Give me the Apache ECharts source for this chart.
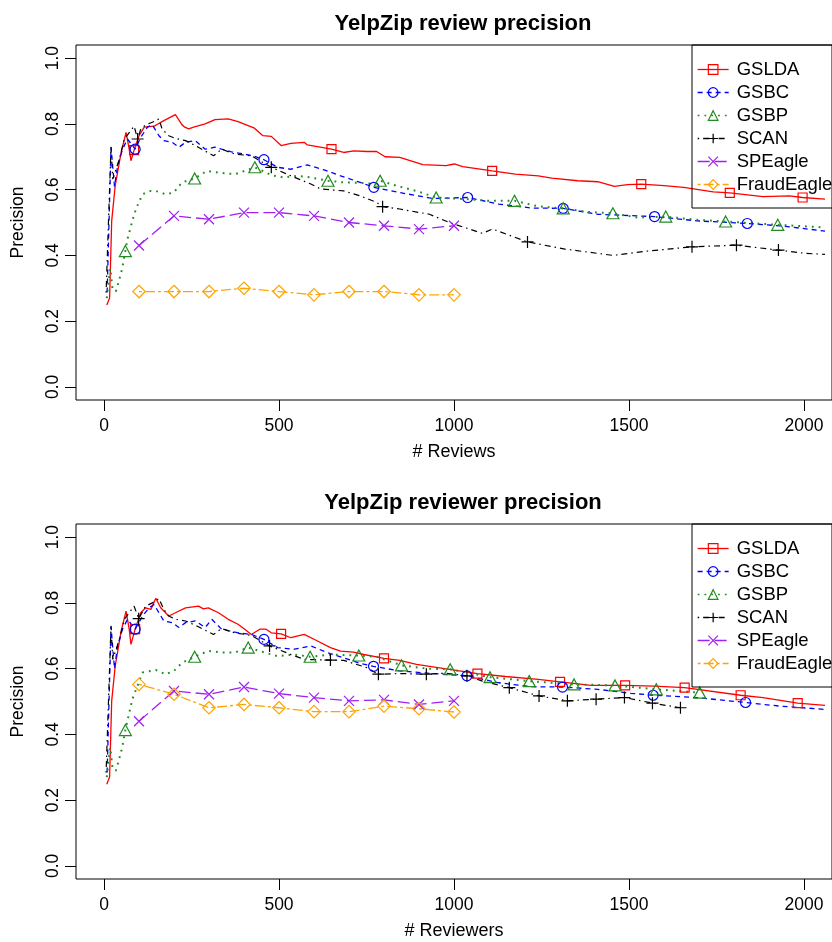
<!DOCTYPE html>
<html><head><meta charset="utf-8">
<script src="https://cdn.jsdelivr.net/npm/echarts@6/dist/echarts.min.js"></script>
<style>html,body{margin:0;padding:0;background:#fff}#c{width:832px;height:942px}</style>
</head><body><div id="c"></div>
<script>
// ---------------- data ----------------
const methods = ['GSLDA','GSBC','GSBP','SCAN','SPEagle','FraudEagle'];
const xTicks = [0,500,1000,1500,2000];
const yTicks = [0,0.2,0.4,0.6,0.8,1.0];
const titles = ['YelpZip review precision','YelpZip reviewer precision'];
const xNames = ['# Reviews','# Reviewers'];
const yName = 'Precision';
const eagleX = [100,200,300,400,500,600,700,800,900,1000];

// Top panel: review precision
const reviewGSLDA = [[8,0.249],[16,0.27],[22,0.505],[32,0.612],[49,0.713],[63,0.774],[72,0.723],[77,0.688],[86,0.72],[100,0.764],[115,0.79],[143,0.793],[171,0.81],[204,0.828],[223,0.797],[231,0.79],[242,0.785],[256,0.79],[289,0.80],[317,0.813],[355,0.815],[383,0.807],[430,0.787],[454,0.764],[478,0.762],[506,0.734],[534,0.741],[572,0.744],[581,0.736],[650,0.723],[685,0.713],[713,0.718],[751,0.716],[779,0.716],[803,0.70],[845,0.698],[911,0.676],[977,0.673],[1001,0.678],[1025,0.67],[1109,0.657],[1175,0.647],[1241,0.642],[1279,0.635],[1354,0.627],[1411,0.624],[1458,0.61],[1496,0.615],[1535,0.617],[1600,0.612],[1656,0.607],[1741,0.593],[1788,0.59],[1883,0.579],[1958,0.581],[1996,0.576],[2060,0.571]];
const reviewGSLDAMarks = [86,650,1109,1535,1788,1996];
const reviewGSBC = [[9,0.287],[20,0.729],[30,0.61],[39,0.673],[53,0.723],[67,0.754],[89,0.723],[105,0.759],[124,0.79],[138,0.797],[157,0.764],[171,0.749],[195,0.744],[214,0.729],[233,0.744],[261,0.749],[289,0.723],[317,0.729],[336,0.723],[364,0.715],[402,0.708],[431,0.701],[457,0.691],[496,0.668],[534,0.662],[581,0.675],[629,0.66],[676,0.642],[732,0.622],[771,0.607],[845,0.591],[940,0.573],[1039,0.576],[1128,0.556],[1222,0.544],[1312,0.543],[1411,0.525],[1573,0.518],[1694,0.505],[1838,0.497],[1930,0.49],[2060,0.474]];
const reviewGSBCMarks = [89,457,771,1039,1312,1573,1838];
const reviewGSBP = [[8,0.27],[14,0.33],[18,0.36],[24,0.30],[34,0.29],[42,0.32],[52,0.36],[61,0.413],[67,0.449],[81,0.505],[91,0.54],[110,0.586],[133,0.596],[148,0.596],[176,0.586],[199,0.591],[223,0.622],[259,0.634],[294,0.657],[327,0.652],[374,0.647],[402,0.657],[431,0.668],[478,0.644],[515,0.637],[553,0.642],[591,0.637],[640,0.627],[685,0.622],[742,0.62],[775,0.617],[789,0.627],[845,0.609],[893,0.596],[949,0.576],[1034,0.571],[1100,0.566],[1173,0.566],[1241,0.549],[1312,0.543],[1383,0.532],[1454,0.528],[1524,0.515],[1605,0.518],[1694,0.508],[1776,0.503],[1925,0.493],[2060,0.485]];
const reviewGSBPMarks = [61,259,431,640,789,949,1173,1312,1454,1605,1776,1925];
const reviewSCAN = [[6,0.287],[20,0.73],[25,0.632],[44,0.693],[58,0.754],[86,0.793],[96,0.754],[105,0.784],[119,0.797],[138,0.805],[157,0.815],[166,0.784],[185,0.764],[204,0.756],[233,0.749],[261,0.734],[313,0.703],[336,0.723],[374,0.708],[421,0.703],[478,0.668],[534,0.642],[591,0.617],[619,0.602],[685,0.596],[732,0.581],[779,0.561],[796,0.548],[845,0.541],[930,0.525],[987,0.5],[1081,0.467],[1110,0.48],[1210,0.441],[1317,0.419],[1454,0.4],[1552,0.413],[1680,0.426],[1807,0.431],[1927,0.416],[2005,0.406],[2060,0.403]];
const reviewSCANMarks = [96,478,796,1210,1680,1807,1927];
const reviewSPEagle = [0.43,0.52,0.51,0.53,0.53,0.52,0.50,0.49,0.48,0.49];
const reviewFraudEagle = [0.29,0.29,0.29,0.30,0.29,0.28,0.29,0.29,0.28,0.28];

// Bottom panel: reviewer precision
const reviewerGSLDA = [[8,0.248],[16,0.27],[22,0.502],[32,0.608],[49,0.714],[63,0.775],[72,0.72],[77,0.674],[89,0.72],[105,0.77],[119,0.785],[134,0.78],[148,0.814],[162,0.785],[185,0.76],[204,0.77],[233,0.785],[270,0.79],[284,0.782],[298,0.785],[327,0.77],[355,0.75],[383,0.735],[402,0.72],[421,0.704],[445,0.72],[463,0.72],[478,0.709],[506,0.706],[534,0.694],[572,0.704],[610,0.684],[647,0.664],[676,0.653],[713,0.65],[742,0.643],[779,0.636],[800,0.631],[845,0.625],[893,0.613],[987,0.598],[1067,0.585],[1147,0.576],[1241,0.567],[1303,0.56],[1392,0.549],[1489,0.549],[1571,0.547],[1659,0.542],[1819,0.519],[1883,0.512],[1982,0.495],[2060,0.488]];
const reviewerGSLDAMarks = [89,506,800,1067,1303,1489,1659,1819,1982];
const reviewerGSBC = [[9,0.284],[20,0.728],[30,0.60],[39,0.67],[53,0.72],[67,0.75],[89,0.72],[110,0.76],[129,0.785],[143,0.795],[157,0.77],[171,0.745],[195,0.74],[214,0.725],[233,0.74],[261,0.745],[289,0.725],[308,0.75],[336,0.72],[383,0.709],[421,0.704],[457,0.689],[496,0.664],[544,0.659],[591,0.669],[638,0.649],[685,0.633],[732,0.616],[770,0.607],[845,0.593],[940,0.585],[1037,0.578],[1128,0.557],[1222,0.545],[1310,0.544],[1411,0.537],[1505,0.525],[1569,0.519],[1694,0.512],[1833,0.497],[1930,0.486],[2060,0.476]];
const reviewerGSBCMarks = [89,457,770,1037,1310,1569,1833];
const reviewerGSBP = [[8,0.27],[14,0.33],[18,0.36],[24,0.30],[34,0.289],[42,0.32],[52,0.36],[61,0.413],[81,0.507],[110,0.588],[148,0.596],[176,0.583],[200,0.593],[223,0.618],[259,0.636],[298,0.654],[336,0.649],[374,0.649],[412,0.664],[459,0.649],[496,0.638],[544,0.643],[589,0.636],[647,0.643],[728,0.64],[779,0.636],[850,0.61],[921,0.6],[989,0.598],[1103,0.574],[1215,0.562],[1343,0.552],[1460,0.549],[1578,0.537],[1702,0.527]];
const reviewerGSBPMarks = [61,259,412,589,728,850,989,1103,1215,1343,1460,1578,1702];
const reviewerSCAN = [[6,0.284],[20,0.73],[25,0.628],[44,0.689],[58,0.75],[86,0.79],[99,0.752],[119,0.79],[138,0.80],[157,0.813],[171,0.78],[185,0.76],[204,0.75],[233,0.745],[261,0.732],[313,0.704],[336,0.722],[374,0.709],[421,0.701],[473,0.669],[534,0.643],[572,0.628],[647,0.626],[685,0.625],[751,0.603],[784,0.583],[850,0.585],[921,0.583],[977,0.586],[1037,0.578],[1081,0.562],[1158,0.542],[1243,0.517],[1324,0.502],[1406,0.507],[1487,0.512],[1567,0.495],[1647,0.481]];
const reviewerSCANMarks = [99,473,647,784,921,1037,1158,1243,1324,1406,1487,1567,1647];
const reviewerSPEagle = [0.44,0.532,0.522,0.544,0.524,0.512,0.502,0.505,0.491,0.502];
const reviewerFraudEagle = [0.552,0.522,0.481,0.491,0.481,0.469,0.469,0.486,0.478,0.468];

// ---------------- styles ----------------
const FONT = '"Liberation Sans", Arial, Helvetica, sans-serif';
const styles = {
  GSLDA:      {color:'#FF0000', dash:'solid',          width:1.3, symbol:'rect',     size:9},
  GSBC:       {color:'#0000FF', dash:[5,4],            width:1.3, symbol:'circle',   size:10},
  GSBP:       {color:'#228B22', dash:[1.8,5],          width:2,   symbol:'triangle', size:[12,11]},
  SCAN:       {color:'#000000', dash:[1.5,4,6,4],      width:1.2, symbol:'path://M6,0V12M0,6H12', size:12},
  SPEagle:    {color:'#A020F0', dash:[12,5],           width:1.3, symbol:'path://M0,0L10,10M10,0L0,10', size:10},
  FraudEagle: {color:'#FFA500', dash:[3,3,10,3],       width:1.3, symbol:'diamond',  size:12.5}
};

const panels = [
  {GSLDA:[reviewGSLDA,reviewGSLDAMarks], GSBC:[reviewGSBC,reviewGSBCMarks], GSBP:[reviewGSBP,reviewGSBPMarks], SCAN:[reviewSCAN,reviewSCANMarks], SPEagle:reviewSPEagle, FraudEagle:reviewFraudEagle},
  {GSLDA:[reviewerGSLDA,reviewerGSLDAMarks], GSBC:[reviewerGSBC,reviewerGSBCMarks], GSBP:[reviewerGSBP,reviewerGSBPMarks], SCAN:[reviewerSCAN,reviewerSCANMarks], SPEagle:reviewerSPEagle, FraudEagle:reviewerFraudEagle}
];

const gridTops = [45, 524];
const series = [];
panels.forEach((p, gi) => {
  methods.forEach(name => {
    const st = styles[name];
    let data;
    if (Array.isArray(p[name][0])) {
      const pts = p[name][0], marks = p[name][1];
      data = pts.map(pt => marks.includes(pt[0]) ? {value: pt} : {value: pt, symbol: 'none'});
    } else {
      data = eagleX.map((x, i) => ({value: [x, p[name][i]]}));
    }
    series.push({
      type: 'line', name: name, xAxisIndex: gi, yAxisIndex: gi,
      data: data, symbol: st.symbol, symbolSize: st.size, showSymbol: true,
      lineStyle: {color: st.color, width: st.width, type: st.dash, cap: 'butt'},
      itemStyle: {color: 'rgba(0,0,0,0)', borderColor: st.color, borderWidth: 1.2},
      emphasis: {disabled: true}, animation: false, clip: true, z: 2
    });
  });
});

const grids = gridTops.map(t => ({left: 76, top: t, width: 764, height: 355, show: true, borderColor: '#000', borderWidth: 1, backgroundColor: 'transparent'}));
const xAxes = gridTops.map((t, i) => ({
  type: 'value', gridIndex: i, min: -80, max: 2080,
  name: xNames[i], nameLocation: 'middle', nameGap: 43,
  nameTextStyle: {fontFamily: FONT, fontSize: 18, color: '#000'},
  axisLine: {show: false, onZero: false}, splitLine: {show: false},
  axisTick: {show: true, length: 11, inside: false, customValues: xTicks, lineStyle: {color: '#000', width: 1}},
  axisLabel: {customValues: xTicks, margin: 17, fontFamily: FONT, fontSize: 17.5, color: '#000',
              formatter: v => String(v)}
}));
const yAxes = gridTops.map((t, i) => ({
  type: 'value', gridIndex: i, min: -0.04, max: 1.04,
  name: yName, nameLocation: 'middle', nameGap: 49,
  nameTextStyle: {fontFamily: FONT, fontSize: 17.5, color: '#000'},
  axisLine: {show: false, onZero: false}, splitLine: {show: false},
  axisTick: {show: true, length: 11, inside: false, customValues: yTicks, lineStyle: {color: '#000', width: 1}},
  axisLabel: {customValues: yTicks, rotate: 90, margin: 14, fontFamily: FONT, fontSize: 17.5, color: '#000',
              formatter: v => v.toFixed(1)}
}));
const legends = gridTops.map(t => ({
  data: methods, orient: 'vertical', left: 692, top: t,
  padding: [15, 40, 14, 5], itemGap: 4, itemWidth: 31, itemHeight: 12,
  borderColor: '#000', borderWidth: 1, backgroundColor: 'transparent',
  itemStyle: {borderWidth: 1.2},
  lineStyle: {width: 1.3},
  textStyle: {fontFamily: FONT, fontSize: 18.5, color: '#000', lineHeight: 19, padding: [0,0,0,3]},
  selectedMode: false
}));
const titleOpts = gridTops.map((t, i) => ({
  text: titles[i], left: 458, textAlign: 'center', top: t - 37,
  textStyle: {fontFamily: FONT, fontSize: 22, fontWeight: 'bold', color: '#000'}
}));

const chart = echarts.init(document.getElementById('c'), null, {renderer: 'canvas'});
chart.setOption({
  animation: false, backgroundColor: '#fff',
  title: titleOpts, legend: legends, grid: grids, xAxis: xAxes, yAxis: yAxes, series: series
});
</script></body></html>
